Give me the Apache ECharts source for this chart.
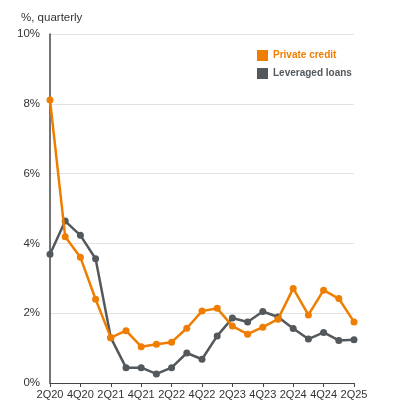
<!DOCTYPE html>
<html>
<head>
<meta charset="utf-8">
<script src="https://cdn.jsdelivr.net/npm/echarts@6/dist/echarts.min.js"></script>
<style>
  html, body { margin: 0; padding: 0; background: #fff; }
  #chart { width: 396px; height: 403px; }
</style>
</head>
<body>
<div id="chart"></div>
<script>
// quarters 2Q20 .. 2Q25
var quarters = ['2Q20', '3Q20', '4Q20', '1Q21', '2Q21', '3Q21', '4Q21', '1Q22', '2Q22', '3Q22', '4Q22',
  '1Q23', '2Q23', '3Q23', '4Q23', '1Q24', '2Q24', '3Q24', '4Q24', '1Q25', '2Q25'];
var privateCredit = [8.11, 4.19, 3.60, 2.40, 1.30, 1.50, 1.04, 1.11, 1.17, 1.57, 2.06,
  2.14, 1.63, 1.40, 1.60, 1.83, 2.71, 1.95, 2.66, 2.42, 1.75];
var leveragedLoans = [3.69, 4.64, 4.23, 3.56, 1.30, 0.44, 0.44, 0.26, 0.44, 0.86, 0.68,
  1.35, 1.86, 1.75, 2.05, 1.89, 1.56, 1.26, 1.45, 1.22, 1.24];
var yTicks = [0, 2, 4, 6, 8, 10];

var orange = '#ef7d00';
var grey = '#53585c';
var font = 'Liberation Sans, Arial, sans-serif';

var chart = echarts.init(document.getElementById('chart'));
chart.setOption({
  animation: false,
  textStyle: { fontFamily: font },
  title: {
    text: '%, quarterly',
    left: 16, top: 7,
    textStyle: { fontSize: 11.5, fontWeight: 'normal', color: '#333', fontFamily: font }
  },
  legend: {
    orient: 'vertical',
    left: 252, top: 45,
    icon: 'rect',
    itemWidth: 11, itemHeight: 11,
    itemGap: 7,
    data: [
      { name: 'Private credit', textStyle: { color: orange } },
      { name: 'Leveraged loans', textStyle: { color: grey } }
    ],
    textStyle: { fontSize: 10, fontWeight: 'bold', fontFamily: font }
  },
  grid: { left: 50, right: 42, top: 34, bottom: 20, containLabel: false },
  xAxis: {
    type: 'category',
    data: quarters,
    boundaryGap: false,
    axisLine: { lineStyle: { color: '#444', width: 1.2 } },
    axisTick: { interval: 1, length: 4, lineStyle: { color: '#444' } },
    axisLabel: { interval: 1, color: '#333', fontSize: 11, margin: 6, fontFamily: font },
    splitLine: { show: false }
  },
  yAxis: {
    type: 'value',
    min: yTicks[0], max: yTicks[yTicks.length - 1], interval: 2,
    axisLine: { show: true, lineStyle: { color: '#444', width: 1.5 } },
    axisTick: { show: false },
    axisLabel: { formatter: '{value}%', color: '#333', fontSize: 11.5, margin: 10, fontFamily: font },
    splitLine: { lineStyle: { color: '#e3e3e3', width: 1 } }
  },
  series: [
    {
      name: 'Private credit', type: 'line', data: privateCredit,
      color: orange,
      symbol: 'circle', symbolSize: 7,
      lineStyle: { width: 2.5 },
      z: 3
    },
    {
      name: 'Leveraged loans', type: 'line', data: leveragedLoans,
      color: grey,
      symbol: 'circle', symbolSize: 7,
      lineStyle: { width: 2.5 },
      z: 2
    }
  ]
});
</script>
</body>
</html>
